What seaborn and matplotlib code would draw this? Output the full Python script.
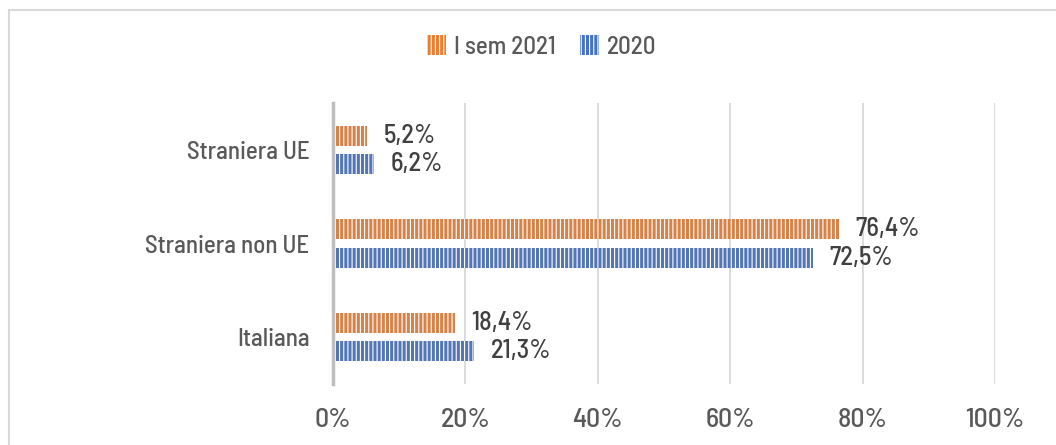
import matplotlib
matplotlib.use("Agg")
import matplotlib.pyplot as plt
import matplotlib.patches as mpatches
import seaborn as sns
import pandas as pd

categories = ["Straniera UE", "Straniera non UE", "Italiana"]
series = ["I sem 2021", "2020"]
values_2021 = [5.2, 76.4, 18.4]
values_2020 = [6.2, 72.5, 21.3]
xticks = [0, 20, 40, 60, 80, 100]
xtick_labels = ["0%", "20%", "40%", "60%", "80%", "100%"]

colors = {"I sem 2021": "#ED7D31", "2020": "#4472C4"}
text_color = "#595959"

sns.set_theme(style="white")
plt.rcParams['font.family'] = ['Barlow Semi Condensed', 'DejaVu Sans']
plt.rcParams['font.weight'] = 500
plt.rcParams['hatch.linewidth'] = 0.8

FS_CAT = 18
FS_LEG = 18
FS_LBL = 19
FS_TICK = 20

df = pd.DataFrame({
    "cat": categories * 2,
    "serie": [series[0]] * 3 + [series[1]] * 3,
    "val": values_2021 + values_2020,
})

fig = plt.figure(figsize=(10.56, 4.45), dpi=100)
ax = fig.add_axes([333 / 1056, 1 - 384 / 445, (995 - 333) / 1056, (384 - 103) / 445])

sns.barplot(data=df, y="cat", x="val", hue="serie", order=categories,
            hue_order=series, palette=colors, orient="h", width=0.6, gap=0.29,
            ax=ax, legend=False)

for bar in ax.patches:
    bar.set_hatch("||||")
    bar.set_edgecolor("white")
    bar.set_linewidth(0)

for container in ax.containers:
    labels = [f"{v:.1f}".replace(".", ",") + "%" for v in container.datavalues]
    ax.bar_label(container, labels=labels, padding=12, fontsize=FS_LBL,
                 color="#404040")

ax.set_xlim(0, 100)
ax.set_ylim(2.5, -0.5)
ax.set_xticks(xticks)
ax.set_xticklabels(xtick_labels, fontsize=FS_TICK, color=text_color)
ax.tick_params(axis="x", length=0, pad=17)
ax.tick_params(axis="y", length=0, pad=17, labelsize=FS_CAT, labelcolor=text_color)
ax.set_xlabel("")
ax.set_ylabel("")
ax.grid(axis="x", color="#D9D9D9", linewidth=1.3)
ax.set_axisbelow(True)
for s in ["top", "right", "bottom"]:
    ax.spines[s].set_visible(False)
ax.spines["left"].set_color("#BFBFBF")
ax.spines["left"].set_linewidth(2.5)
ax.spines["left"].set_zorder(5)

handles = [mpatches.Patch(facecolor=colors[s], edgecolor="white", hatch="||||",
                          linewidth=0, label=s) for s in series]
fig.legend(handles=handles, loc="center", bbox_to_anchor=(0.513, 1 - 47 / 445),
           ncol=2, frameon=False, fontsize=FS_LEG, handlelength=0.75,
           handleheight=0.85, handletextpad=0.3, columnspacing=1.0,
           labelcolor=text_color)

border = mpatches.Rectangle((8.5 / 1056, -0.1), 1.2, 1 - 10.5 / 445 + 0.1,
                            transform=fig.transFigure, fill=False,
                            edgecolor="#D9D9D9", linewidth=1.5, clip_on=False)
fig.patches.append(border)

fig.savefig("out.png", dpi=100)
